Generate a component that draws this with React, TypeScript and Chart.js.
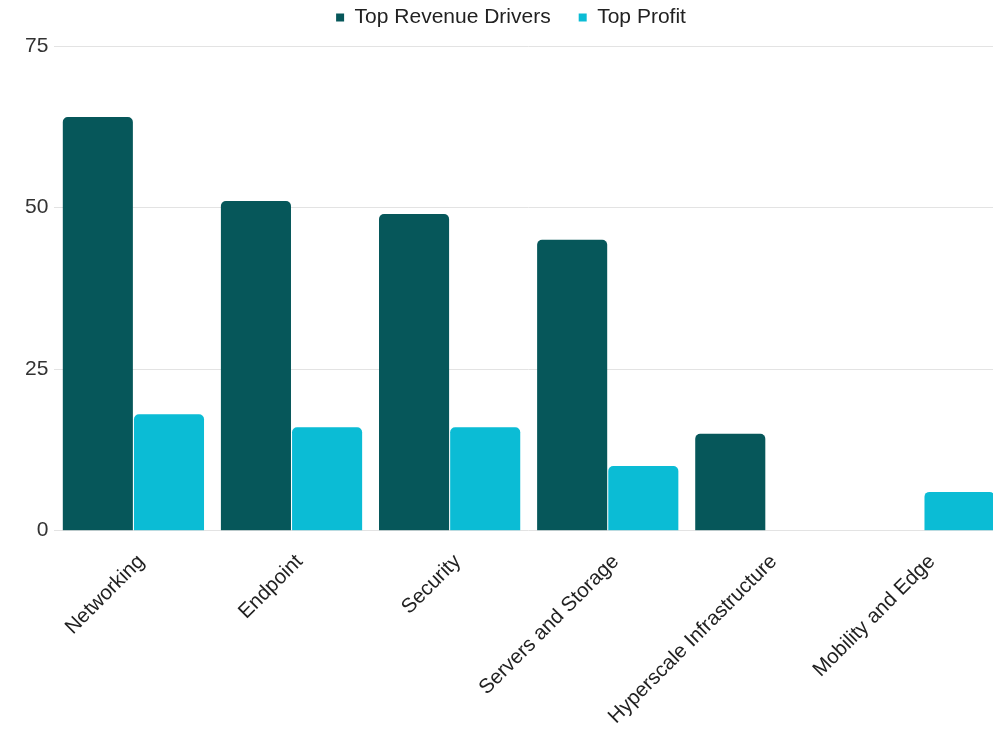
import React, { useEffect, useRef } from "react";
import { Chart, registerables } from "chart.js";

Chart.register(...registerables);

const categories = [
  "Networking",
  "Endpoint",
  "Security",
  "Servers and Storage",
  "Hyperscale Infrastructure",
  "Mobility and Edge",
];
const revenueDrivers = [64, 51, 49, 45, 15, null];
const topProfit = [18, 16, 16, 10, null, 6];
const yTicks = [0, 25, 50, 75];

const DARK = "#06575a";
const CYAN = "#0bbcd5";
const FONT = "'Liberation Sans', Arial, sans-serif";

const legendSpacer = {
  id: "legendSpacer",
  beforeInit(chart: any) {
    const legend = chart.legend;
    if (!legend) return;
    const origFit = legend.fit;
    legend.fit = function () {
      origFit.call(this);
      this.height += 8;
    };
  },
};

export default function App() {
  const ref = useRef<HTMLCanvasElement | null>(null);

  useEffect(() => {
    if (!ref.current) return;
    const chart = new Chart(ref.current, {
      type: "bar",
      data: {
        labels: categories,
        datasets: [
          {
            label: "Top Revenue Drivers",
            data: revenueDrivers,
            backgroundColor: DARK,
            borderRadius: { topLeft: 5, topRight: 5, bottomLeft: 0, bottomRight: 0 },
            borderSkipped: false,
            categoryPercentage: 0.9,
            barPercentage: 0.985,
          },
          {
            label: "Top Profit",
            data: topProfit,
            backgroundColor: CYAN,
            borderRadius: { topLeft: 5, topRight: 5, bottomLeft: 0, bottomRight: 0 },
            borderSkipped: false,
            categoryPercentage: 0.9,
            barPercentage: 0.985,
          },
        ],
      },
      options: {
        responsive: false,
        animation: false,
        layout: { padding: { left: 19, right: 0, top: -21, bottom: -11 } },
        plugins: {
          legend: {
            position: "top",
            align: "center",
            labels: {
              boxWidth: 8,
              boxHeight: 8,
              padding: 28,
              color: "#222",
              font: { size: 21, family: FONT },
            },
          },
          tooltip: { enabled: false },
        },
        scales: {
          x: {
            grid: { display: false },
            border: { display: false },
            ticks: {
              minRotation: 45,
              maxRotation: 45,
              autoSkip: false,
              color: "#222",
              padding: 11,
              labelOffset: 8,
              font: { size: 20.5, family: FONT },
            },
          },
          y: {
            min: yTicks[0],
            max: yTicks[yTicks.length - 1],
            afterBuildTicks: (axis: any) => {
              axis.ticks = yTicks.map((v) => ({ value: v }));
            },
            grid: { color: "#e3e3e3", drawTicks: false, lineWidth: 1 },
            border: { display: false },
            ticks: {
              stepSize: 25,
              padding: 6,
              color: "#333",
              font: { size: 21, family: FONT },
            },
          },
        },
      },
      plugins: [legendSpacer],
    });
    return () => chart.destroy();
  }, []);

  return (
    <div
      style={{
        position: "fixed",
        left: 0,
        top: 0,
        width: 993,
        height: 729,
        overflow: "hidden",
        background: "#fff",
      }}
    >
      <canvas ref={ref} width={1003} height={729} style={{ display: "block" }} />
    </div>
  );
}
